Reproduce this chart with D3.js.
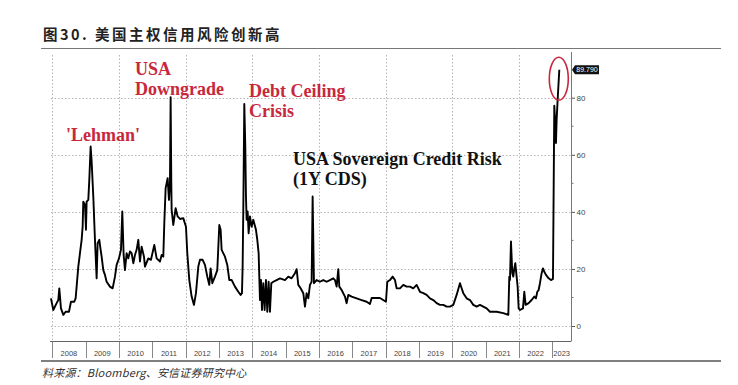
<!DOCTYPE html>
<html>
<head>
<meta charset="utf-8">
<script src="https://cdn.jsdelivr.net/npm/d3@7"></script>
<style>
  body { margin: 0; background: #fff; }
  svg { display: block; }
</style>
</head>
<body>
<div id="wrapper"></div>
<script>
// decimal years and 1Y CDS levels
const years = [2007.96,2008.03,2008.13,2008.18,2008.21,2008.26,2008.33,2008.40,2008.50,2008.56,2008.66,2008.70,2008.73,2008.78,2008.83,2008.88,2008.91,2008.93,2008.98,2009.01,2009.03,2009.08,2009.11,2009.15,2009.18,2009.23,2009.28,2009.33,2009.36,2009.41,2009.45,2009.48,2009.53,2009.58,2009.63,2009.73,2009.81,2009.88,2009.93,2010.00,2010.06,2010.10,2010.14,2010.18,2010.23,2010.28,2010.33,2010.38,2010.43,2010.48,2010.53,2010.58,2010.63,2010.68,2010.75,2010.78,2010.88,2010.96,2011.06,2011.13,2011.23,2011.28,2011.33,2011.36,2011.40,2011.46,2011.50,2011.53,2011.55,2011.57,2011.58,2011.63,2011.70,2011.76,2011.83,2011.93,2012.01,2012.05,2012.11,2012.18,2012.25,2012.31,2012.38,2012.43,2012.51,2012.58,2012.65,2012.71,2012.75,2012.80,2012.88,2012.95,2013.01,2013.05,2013.08,2013.18,2013.25,2013.31,2013.38,2013.48,2013.58,2013.65,2013.69,2013.71,2013.73,2013.76,2013.79,2013.81,2013.83,2013.86,2013.89,2013.93,2013.98,2014.03,2014.11,2014.15,2014.19,2014.23,2014.26,2014.29,2014.33,2014.37,2014.41,2014.45,2014.49,2014.53,2014.57,2014.63,2014.73,2014.83,2014.98,2015.08,2015.18,2015.28,2015.33,2015.38,2015.45,2015.53,2015.58,2015.63,2015.68,2015.73,2015.78,2015.81,2015.85,2015.93,2016.03,2016.13,2016.23,2016.33,2016.43,2016.48,2016.53,2016.58,2016.61,2016.68,2016.78,2016.83,2016.88,2016.98,2017.13,2017.28,2017.43,2017.53,2017.58,2017.83,2018.01,2018.05,2018.13,2018.21,2018.28,2018.33,2018.43,2018.53,2018.63,2018.73,2018.83,2018.93,2019.03,2019.13,2019.23,2019.33,2019.43,2019.53,2019.63,2019.73,2019.83,2019.93,2020.03,2020.13,2020.23,2020.28,2020.33,2020.43,2020.53,2020.63,2020.73,2020.83,2020.93,2021.03,2021.13,2021.33,2021.53,2021.68,2021.71,2021.73,2021.76,2021.80,2021.83,2021.86,2021.89,2021.93,2021.96,2021.99,2022.03,2022.12,2022.16,2022.20,2022.29,2022.38,2022.46,2022.51,2022.55,2022.59,2022.63,2022.68,2022.72,2022.76,2022.81,2022.89,2022.96,2023.02,2023.06,2023.08,2023.11,2023.13,2023.16,2023.21]
const cds = [9.7,5.6,8.0,9.1,13.2,6.2,3.9,5.0,5.0,8.5,8.5,9.7,13.8,20.8,25.5,30.2,34.8,43.6,42.5,33.7,43.6,44.2,51.2,62.9,57.7,45.4,30.2,16.7,29.0,30.2,26.7,24.3,19.6,17.9,15.5,13.8,13.2,17.3,21.4,23.7,26.7,40.1,24.9,19.6,25.5,23.7,26.1,25.5,22.0,24.9,26.7,30.2,22.6,27.8,24.3,20.8,23.7,23.2,28.4,23.7,22.6,24.9,24.3,36.0,48.3,51.8,44.2,50.1,80.2,50.0,40.7,35.4,41.3,38.4,37.5,37.8,34.8,25.5,16.1,10.3,7.4,11.5,20.8,23.2,23.2,21.4,17.3,14.4,20.2,15.0,17.3,19.6,35.4,33.7,26.7,24.3,21.4,16.1,16.1,13.8,12.0,10.9,11.5,20.8,40.7,77.8,62.9,45.4,37.2,40.1,32.5,38.4,34.8,37.2,33.7,30.2,25.5,9.1,16.1,5.6,15.0,5.6,16.1,5.0,15.5,5.0,15.0,15.5,16.1,16.7,16.1,17.3,16.7,18.5,19.9,14.4,13.2,11.5,6.8,11.5,9.7,14.4,15.5,45.4,15.0,16.1,15.5,16.1,15.5,16.1,16.7,16.1,13.8,19.9,13.8,12.6,10.3,8.0,10.9,10.3,9.7,9.1,8.5,7.7,9.8,9.8,8.5,15.5,16.1,17.3,16.1,13.2,13.2,14.4,13.8,13.8,13.2,14.4,12.0,11.5,10.9,9.7,9.1,8.0,7.4,7.4,6.8,6.8,7.4,10.9,15.0,13.2,11.5,9.7,9.1,7.4,6.8,7.4,6.8,6.2,5.0,5.0,4.5,3.9,17.3,16.1,29.6,18.5,17.3,20.2,22.0,17.3,13.8,6.2,5.6,6.2,12.0,7.4,8.0,9.1,10.3,9.7,12.0,12.6,15.0,18.5,20.2,19.0,17.9,16.7,16.1,16.5,77.2,72.9,64.1,72.3,79.3,89.79]

const yearLabels = ["2008","2009","2010","2011","2012","2013","2014","2015","2016","2017","2018","2019","2020","2021","2022","2023"]
const gridYears = [2008,2010,2012,2014,2016,2018,2020,2022]
const yTicks = [0,20,40,60,80]
const yMinorTicks = [10,30,50,70]

const titleText = "图30. 美国主权信用风险创新高"
const sourceText = "料来源：Bloomberg、安信证券研究中心"
const redNotes = [["'Lehman'"], ["USA", "Downgrade"], ["Debt Ceiling", "Crisis"]]
const blackNote = ["USA Sovereign Credit Risk", "(1Y CDS)"]

const width = 738
const height = 385
const dims = { left: 50, right: 571, top: 52, bottom: 341.5 }
const red = "#c8283c"

const svg = d3.select("#wrapper")
  .append("svg")
  .attr("width", width)
  .attr("height", height)

// scales
const xScale = d3.scaleLinear()
  .domain([2008, 2023])
  .range([52.3, 552.3])

const yScale = d3.scaleLinear()
  .domain([0, 80])
  .range([326, 97.7])

// title + rules
svg.append("text")
  .attr("x", 43)
  .attr("y", 40)
  .text(titleText)
  .style("font-family", "'Noto Sans CJK SC'")
  .style("font-weight", "bold")
  .style("font-size", "14.5px")
  .style("letter-spacing", "2.5px")
  .style("fill", "#222")

svg.append("line")
  .attr("x1", 41).attr("x2", 721)
  .attr("y1", 48.5).attr("y2", 48.5)
  .attr("stroke", "#777")
  .attr("stroke-width", 1)

svg.append("line")
  .attr("x1", 41).attr("x2", 721)
  .attr("y1", 361).attr("y2", 361)
  .attr("stroke", "#555")
  .attr("stroke-width", 1.5)

svg.append("text")
  .attr("x", 42)
  .attr("y", 377)
  .text(sourceText)
  .style("font-family", "'Noto Sans CJK SC'")
  .style("font-style", "italic")
  .style("font-size", "11px")
  .style("letter-spacing", "0.2px")
  .style("fill", "#333")

// grid
const grid = svg.append("g")
  .attr("stroke", "#b5b5b5")
  .attr("stroke-width", 1)
  .attr("stroke-dasharray", "1.5 2")

grid.selectAll(".vgrid")
  .data(gridYears)
  .join("line")
  .attr("x1", d => Math.round(xScale(d)) + 0.5)
  .attr("x2", d => Math.round(xScale(d)) + 0.5)
  .attr("y1", dims.top + 3)
  .attr("y2", dims.bottom)

grid.selectAll(".hgrid")
  .data(yTicks)
  .join("line")
  .attr("x1", dims.left + 1)
  .attr("x2", dims.right)
  .attr("y1", d => Math.round(yScale(d)) + 0.5)
  .attr("y2", d => Math.round(yScale(d)) + 0.5)

// bottom year axis (boxes)
const xAxis = svg.append("g")
svg.append("line")
  .attr("x1", dims.left).attr("x2", dims.right)
  .attr("y1", dims.bottom).attr("y2", dims.bottom)
  .attr("stroke", "#666")

xAxis.selectAll("line")
  .data(yearLabels)
  .join("line")
  .attr("x1", d => Math.round(xScale(+d)) + 0.5)
  .attr("x2", d => Math.round(xScale(+d)) + 0.5)
  .attr("y1", dims.bottom)
  .attr("y2", 358)
  .attr("stroke", "#888")

xAxis.selectAll("text")
  .data(yearLabels)
  .join("text")
  .attr("x", d => {
    const x0 = xScale(+d)
    const x1 = Math.min(xScale(+d + 1), dims.right)
    return (x0 + x1) / 2
  })
  .attr("y", 356)
  .attr("text-anchor", "middle")
  .text(d => d)
  .style("font-family", "'Liberation Sans'")
  .style("font-size", "7.5px")
  .style("fill", "#444")

// right value axis
const yAxisGenerator = d3.axisRight(yScale)
  .tickValues(yTicks)
  .tickSize(4)
  .tickPadding(1.5)

const yAxis = svg.append("g")
  .attr("transform", `translate(${dims.right},0)`)
  .call(yAxisGenerator)

yAxis.select(".domain").remove()
yAxis.selectAll(".tick line").attr("stroke", "#555")
yAxis.selectAll(".tick text")
  .style("font-family", "'Liberation Sans'")
  .style("font-size", "8px")
  .style("fill", "#444")

yAxis.selectAll(".minor")
  .data(yMinorTicks)
  .join("line")
  .attr("x1", 0).attr("x2", 2.5)
  .attr("y1", d => yScale(d)).attr("y2", d => yScale(d))
  .attr("stroke", "#777")

svg.append("line")
  .attr("x1", dims.right + 0.5).attr("x2", dims.right + 0.5)
  .attr("y1", dims.top).attr("y2", dims.bottom)
  .attr("stroke", "#777")

// the series
const points = years.map((y, i) => [y, cds[i]])

const lineGenerator = d3.line()
  .x(d => xScale(d[0]))
  .y(d => yScale(d[1]))

svg.append("path")
  .datum(points)
  .attr("d", lineGenerator)
  .attr("fill", "none")
  .attr("stroke", "#000")
  .attr("stroke-width", 1.9)
  .attr("stroke-linejoin", "round")

// last value tag
const last = points[points.length - 1]
const tagY = yScale(last[1])
const tag = svg.append("g")
  .attr("transform", `translate(${dims.right + 1},${tagY})`)
tag.append("path")
  .attr("d", "M0,0 L3,-4.5 L27,-4.5 L27,4.5 L3,4.5 Z")
  .attr("fill", "#111")
tag.append("text")
  .attr("x", 15)
  .attr("y", 2.5)
  .attr("text-anchor", "middle")
  .text(d3.format(".3f")(last[1]))
  .style("font-family", "'Liberation Sans'")
  .style("font-size", "7px")
  .style("fill", "#fff")

// red ring around the peak
svg.append("ellipse")
  .attr("cx", xScale(last[0]) - 0.5)
  .attr("cy", yScale(last[1]) + 9)
  .attr("rx", 9.5)
  .attr("ry", 21.5)
  .attr("fill", "none")
  .attr("stroke", red)
  .attr("stroke-width", 1.6)

// annotations
const noteStyle = sel => sel
  .style("font-family", "'Liberation Serif'")
  .style("font-weight", "bold")
  .style("font-size", "18px")

const notePos = [[66, 141], [135, 75], [249, 97], [293, 165]]
const allNotes = [...redNotes, blackNote]

allNotes.forEach((lines, i) => {
  const t = svg.append("text")
    .attr("x", notePos[i][0])
    .attr("y", notePos[i][1])
    .attr("fill", i < redNotes.length ? red : "#111")
    .call(noteStyle)
  lines.forEach((l, j) => {
    t.append("tspan")
      .attr("x", notePos[i][0])
      .attr("dy", j === 0 ? 0 : 20)
      .text(l)
  })
})
</script>
</body>
</html>
